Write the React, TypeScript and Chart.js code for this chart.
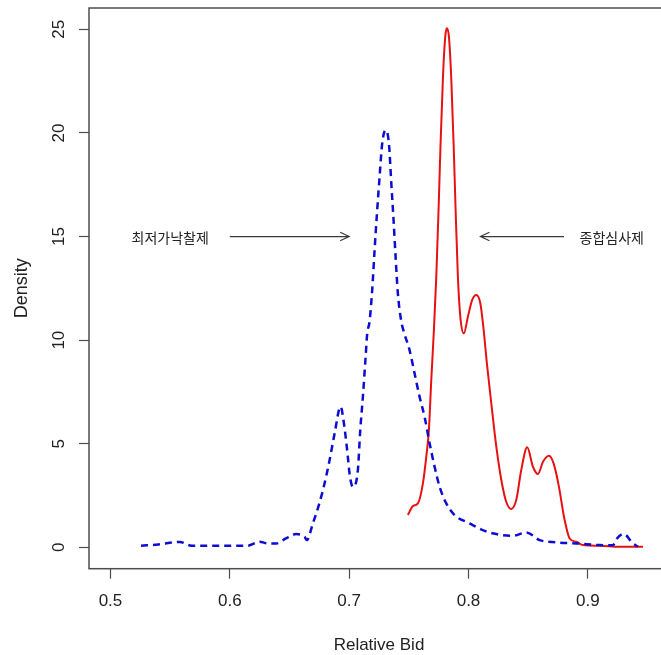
import React, { useEffect, useRef } from "react";
import { Chart, registerables } from "chart.js";

Chart.register(...registerables);

// 최저가낙찰제 (blue dashed density)
const lowBidX = [
  0.5256, 0.54, 0.558, 0.568, 0.585, 0.6, 0.615, 0.625, 0.632, 0.639, 0.647, 0.6556, 0.6626,
  0.6645, 0.6696, 0.675, 0.6794, 0.6836, 0.6878, 0.6928, 0.696, 0.6989, 0.7003, 0.7031, 0.7073,
  0.7093, 0.7115, 0.7138, 0.7151, 0.7171, 0.7193, 0.7213, 0.7233, 0.7255, 0.7277, 0.7305, 0.7333,
  0.7353, 0.7372, 0.7389, 0.7408, 0.7437, 0.7464, 0.7506, 0.7548, 0.759, 0.7632, 0.7674, 0.7716,
  0.7758, 0.7814, 0.7883, 0.8009, 0.812, 0.8233, 0.8372, 0.8484, 0.8596, 0.8736, 0.8903, 0.91,
  0.921, 0.9239, 0.9300, 0.9378, 0.942,
];
const lowBidY = [
  0.08, 0.14, 0.26, 0.08, 0.08, 0.08, 0.08, 0.27, 0.19, 0.19, 0.43, 0.64, 0.51,
  0.35, 1.16, 2.12, 3.09, 4.21, 5.5, 6.79, 5.82, 4.37, 3.57, 2.92, 3.73,
  5.66, 7.27, 9.2, 10.3, 10.9, 12.42, 14.35, 16.12, 17.89, 19.5, 20.14, 19.5,
  17.57, 15.8, 14.03, 12.26, 10.9, 10.3, 9.52, 8.4, 7.27, 6.3, 5.02, 3.89,
  2.92, 2.12, 1.56, 1.16, 0.83, 0.64, 0.56, 0.72, 0.35, 0.24, 0.19, 0.11,
  0.1, 0.39, 0.65, 0.19, 0.03,
];

// 종합심사제 (red solid density)
const compX = [
  0.7492, 0.7534, 0.7576, 0.7618, 0.7646, 0.7668, 0.7688, 0.771, 0.773, 0.7749, 0.7766, 0.7786,
  0.7805, 0.7819, 0.7836, 0.7855, 0.7875, 0.7892, 0.7911, 0.7934, 0.7961, 0.7995, 0.8031, 0.8065,
  0.8099, 0.8127, 0.8154, 0.8191, 0.8233, 0.8275, 0.8316, 0.8358, 0.84, 0.8442, 0.8492, 0.854,
  0.8582, 0.8624, 0.8674, 0.8713, 0.8758, 0.88, 0.8848, 0.8903, 0.8959, 0.91, 0.9267, 0.9462,
];
const compY = [
  1.56, 1.99, 2.12, 3.09, 4.37, 5.66, 8.07, 10.49, 13.06, 16.28, 19.5, 22.71,
  24.64, 25.05, 24.64, 22.71, 19.5, 16.28, 13.06, 10.97, 10.33, 11.13, 11.94, 12.18,
  11.78, 10.49, 8.88, 6.95, 4.86, 3.25, 2.2, 1.85, 2.28, 3.73, 4.83, 3.89,
  3.54, 4.13, 4.42, 4.05, 2.92, 1.48, 0.43, 0.27, 0.11, 0.08, 0.03, 0.03,
];

const xTicks = [0.5, 0.6, 0.7, 0.8, 0.9];
const yTicks = [0, 5, 10, 15, 20, 25];

const labelTexts = ["최저가낙찰제", "종합심사제"];
const labelX = [0.55, 0.92];
const labelY = [15, 15];
const arrowFromX = [0.6, 0.88];
const arrowToX = [0.7, 0.81];
const arrowY = [15, 15];

const W = 680;
const H = 655;
const FONT = "'Liberation Sans', Arial, sans-serif";

export default function App() {
  const ref = useRef<HTMLCanvasElement>(null);

  useEffect(() => {
    if (!ref.current) return;
    const annot = {
      id: "annot",
      afterDatasetsDraw(chart: any) {
        const { ctx, chartArea, scales } = chart;
        const xs = scales.x;
        const ys = scales.y;
        ctx.save();
        // box
        ctx.strokeStyle = "#4d4d4d";
        ctx.lineWidth = 1.5;
        ctx.strokeRect(chartArea.left, chartArea.top, chartArea.right - chartArea.left, chartArea.bottom - chartArea.top);
        // arrows
        ctx.strokeStyle = "#3a3a3a";
        ctx.lineWidth = 1.2;
        for (let i = 0; i < arrowFromX.length; i++) {
          const x0 = xs.getPixelForValue(arrowFromX[i]);
          const x1 = xs.getPixelForValue(arrowToX[i]);
          const y = ys.getPixelForValue(arrowY[i]);
          ctx.beginPath();
          ctx.moveTo(x0, y);
          ctx.lineTo(x1, y);
          const ang = Math.atan2(0, x1 - x0);
          const len = 10;
          const spread = (25 * Math.PI) / 180;
          ctx.moveTo(x1 - len * Math.cos(ang - spread), y - len * Math.sin(ang - spread));
          ctx.lineTo(x1, y);
          ctx.lineTo(x1 - len * Math.cos(ang + spread), y - len * Math.sin(ang + spread));
          ctx.stroke();
        }
        // labels
        ctx.fillStyle = "#222";
        ctx.font = "14px 'Noto Sans CJK KR', sans-serif";
        ctx.textAlign = "center";
        ctx.textBaseline = "middle";
        for (let i = 0; i < labelTexts.length; i++) {
          ctx.fillText(labelTexts[i], xs.getPixelForValue(labelX[i]), ys.getPixelForValue(labelY[i]) + 1);
        }
        ctx.restore();
      },
    };

    const chart = new Chart(ref.current, {
      type: "line",
      data: {
        datasets: [
          {
            label: "최저가낙찰제",
            data: lowBidX.map((x, i) => ({ x, y: lowBidY[i] })),
            borderColor: "#0c0cd2",
            borderWidth: 2.5,
            borderDash: [7, 5],
            pointRadius: 0,
            fill: false,
            cubicInterpolationMode: "monotone",
          },
          {
            label: "종합심사제",
            data: compX.map((x, i) => ({ x, y: compY[i] })),
            borderColor: "#e81010",
            borderWidth: 2,
            pointRadius: 0,
            fill: false,
            cubicInterpolationMode: "monotone",
          },
        ],
      },
      options: {
        responsive: false,
        animation: false,
        devicePixelRatio: 1,
        layout: { padding: { left: 0, top: 8, right: 11, bottom: 0 } },
        plugins: { legend: { display: false }, tooltip: { enabled: false } },
        scales: {
          x: {
            type: "linear",
            min: 0.482,
            max: 0.968,
            afterBuildTicks: (s: any) => {
              s.ticks = xTicks.map((v) => ({ value: v }));
            },
            afterFit: (s: any) => {
              s.height = H - 568.7;
              s.paddingLeft = 0;
              s.paddingRight = 0;
            },
            grid: { drawOnChartArea: false, drawTicks: true, tickLength: 10, tickColor: "#4d4d4d", tickWidth: 1.2 },
            border: { display: false },
            ticks: {
              padding: 12,
              color: "#222",
              font: { family: FONT, size: 17 },
              maxRotation: 0,
              autoSkip: false,
              callback: (v: any) => Number(v).toFixed(1),
            },
            title: {
              display: true,
              text: "Relative Bid",
              color: "#222",
              font: { family: FONT, size: 17 },
              padding: { top: 0, bottom: -1 },
            },
          },
          y: {
            type: "linear",
            min: -1.03,
            max: 26.03,
            afterBuildTicks: (s: any) => {
              s.ticks = yTicks.map((v) => ({ value: v }));
            },
            afterFit: (s: any) => {
              s.width = 89;
              s.paddingTop = 0;
              s.paddingBottom = 0;
            },
            grid: { drawOnChartArea: false, drawTicks: true, tickLength: 10, tickColor: "#4d4d4d", tickWidth: 1.2 },
            border: { display: false },
            ticks: {
              padding: 10,
              color: "#222",
              font: { family: FONT, size: 17 },
              minRotation: 90,
              maxRotation: 90,
              crossAlign: "center",
              autoSkip: false,
              callback: (v: any) => String(v),
            },
            title: {
              display: true,
              text: "Density",
              color: "#222",
              font: { family: FONT, size: 18 },
              padding: { top: 11, bottom: 0 },
            },
          },
        },
      },
      plugins: [annot],
    } as any);
    return () => chart.destroy();
  }, []);

  return (
    <div style={{ position: "fixed", left: 0, top: 0, width: 661, height: 655, overflow: "hidden", background: "#fff" }}>
      <canvas ref={ref} width={W} height={H} style={{ width: W, height: H, display: "block" }} />
    </div>
  );
}
